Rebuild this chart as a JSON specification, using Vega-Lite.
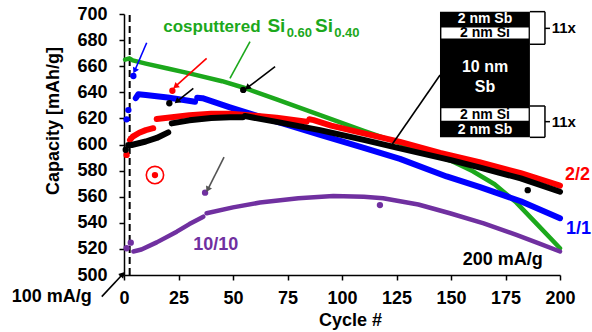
{
"$schema":"https://vega.github.io/schema/vega-lite/v6.json",
"width":436,"height":261,
"autosize":{"type":"none"},
"padding":{"left":124,"top":14,"right":32,"bottom":57},
"background":"white",
"config":{"view":{"stroke":null},"text":{"font":"Liberation Sans","fontWeight":"bold"}},
"datasets":{
"curves":[
{"series":"cosputtered","seg":1,"x":0.5,"y":665},{"series":"cosputtered","seg":1,"x":2.5,"y":666},{"series":"cosputtered","seg":1,"x":4,"y":664.5},{"series":"cosputtered","seg":1,"x":10,"y":662},{"series":"cosputtered","seg":1,"x":20,"y":658.2},{"series":"cosputtered","seg":1,"x":30,"y":654.5},{"series":"cosputtered","seg":1,"x":45,"y":648.5},{"series":"cosputtered","seg":1,"x":55,"y":643.5},{"series":"cosputtered","seg":1,"x":70,"y":634.5},{"series":"cosputtered","seg":1,"x":90,"y":622.6},{"series":"cosputtered","seg":1,"x":110,"y":610.5},{"series":"cosputtered","seg":1,"x":131,"y":598.3},{"series":"cosputtered","seg":1,"x":140,"y":593},{"series":"cosputtered","seg":1,"x":150,"y":587.5},{"series":"cosputtered","seg":1,"x":160,"y":579.5},{"series":"cosputtered","seg":1,"x":170,"y":569.5},{"series":"cosputtered","seg":1,"x":180,"y":555.5},{"series":"cosputtered","seg":1,"x":190,"y":538},{"series":"cosputtered","seg":1,"x":200,"y":520.5},
{"series":"1/1","seg":1,"x":5.4,"y":635.5},{"series":"1/1","seg":1,"x":6.6,"y":638.5},{"series":"1/1","seg":1,"x":10,"y":638},{"series":"1/1","seg":1,"x":20,"y":636},{"series":"1/1","seg":1,"x":32.6,"y":632.8},
{"series":"1/1","seg":2,"x":33.6,"y":635.8},{"series":"1/1","seg":2,"x":36,"y":635.5},{"series":"1/1","seg":2,"x":48.6,"y":628.5},{"series":"1/1","seg":2,"x":60,"y":622.5},{"series":"1/1","seg":2,"x":75,"y":615},{"series":"1/1","seg":2,"x":90,"y":607.3},{"series":"1/1","seg":2,"x":110,"y":597.5},{"series":"1/1","seg":2,"x":126.6,"y":589},{"series":"1/1","seg":2,"x":148,"y":575.5},{"series":"1/1","seg":2,"x":163,"y":567.5},{"series":"1/1","seg":2,"x":182,"y":556.5},{"series":"1/1","seg":2,"x":200,"y":543.5},
{"series":"2/2","seg":1,"x":2.75,"y":603.5},{"series":"2/2","seg":1,"x":4,"y":606},{"series":"2/2","seg":1,"x":7,"y":609},{"series":"2/2","seg":1,"x":10,"y":611},{"series":"2/2","seg":1,"x":13.4,"y":612.5},
{"series":"2/2","seg":2,"x":15,"y":619.5},{"series":"2/2","seg":2,"x":20,"y":620.5},{"series":"2/2","seg":2,"x":30,"y":622.5},{"series":"2/2","seg":2,"x":40,"y":623.5},{"series":"2/2","seg":2,"x":48.6,"y":623.5},{"series":"2/2","seg":2,"x":60,"y":622},{"series":"2/2","seg":2,"x":70,"y":620.5},{"series":"2/2","seg":2,"x":83.8,"y":617.5},
{"series":"2/2","seg":3,"x":85,"y":619.3},{"series":"2/2","seg":3,"x":87,"y":618.7},{"series":"2/2","seg":3,"x":95,"y":614.5},{"series":"2/2","seg":3,"x":110,"y":608.5},{"series":"2/2","seg":3,"x":126.6,"y":602},{"series":"2/2","seg":3,"x":145,"y":593.5},{"series":"2/2","seg":3,"x":163,"y":586.5},{"series":"2/2","seg":3,"x":182,"y":578},{"series":"2/2","seg":3,"x":200,"y":568.5},
{"series":"multilayer","seg":1,"x":3.5,"y":599.6},{"series":"multilayer","seg":1,"x":10,"y":602.3},{"series":"multilayer","seg":1,"x":15,"y":605},{"series":"multilayer","seg":1,"x":20.3,"y":609.3},
{"series":"multilayer","seg":2,"x":21.9,"y":616.2},{"series":"multilayer","seg":2,"x":30,"y":618.5},{"series":"multilayer","seg":2,"x":40,"y":620.3},{"series":"multilayer","seg":2,"x":48.6,"y":620.8},{"series":"multilayer","seg":2,"x":54.5,"y":620.8},
{"series":"multilayer","seg":3,"x":55.5,"y":621.8},{"series":"multilayer","seg":3,"x":70,"y":617.3},{"series":"multilayer","seg":3,"x":89.9,"y":611},{"series":"multilayer","seg":3,"x":110,"y":603.5},{"series":"multilayer","seg":3,"x":126.6,"y":597},{"series":"multilayer","seg":3,"x":150,"y":588},{"series":"multilayer","seg":3,"x":163,"y":582.5},{"series":"multilayer","seg":3,"x":182,"y":574},{"series":"multilayer","seg":3,"x":200,"y":563.8},
{"series":"10/10","seg":1,"x":4.3,"y":518},{"series":"10/10","seg":1,"x":8,"y":519.5},{"series":"10/10","seg":1,"x":15,"y":525},{"series":"10/10","seg":1,"x":24.2,"y":533.2},{"series":"10/10","seg":1,"x":30,"y":539},{"series":"10/10","seg":1,"x":36.4,"y":544.7},
{"series":"10/10","seg":2,"x":37.9,"y":547.3},{"series":"10/10","seg":2,"x":50,"y":551.8},{"series":"10/10","seg":2,"x":62.4,"y":555.5},{"series":"10/10","seg":2,"x":80,"y":558.8},{"series":"10/10","seg":2,"x":96,"y":560.5},{"series":"10/10","seg":2,"x":110,"y":560},{"series":"10/10","seg":2,"x":118.9,"y":558.8},{"series":"10/10","seg":2,"x":135,"y":554},{"series":"10/10","seg":2,"x":149.5,"y":547.3},{"series":"10/10","seg":2,"x":165,"y":539.5},{"series":"10/10","seg":2,"x":180,"y":530.7},{"series":"10/10","seg":2,"x":190,"y":524.5},{"series":"10/10","seg":2,"x":200,"y":518}
],
"pts":[
{"series":"1/1","x":1.2,"y":619.3},{"series":"1/1","x":2.0,"y":626.4},{"series":"1/1","x":4.3,"y":652.5},
{"series":"2/2","x":1.2,"y":592},{"series":"2/2","x":22.2,"y":641.2},{"series":"2/2","x":14.2,"y":576.6},
{"series":"multilayer","x":0.8,"y":596},{"series":"multilayer","x":2,"y":599.5},{"series":"multilayer","x":20.8,"y":631.6},{"series":"multilayer","x":54.7,"y":641.8},{"series":"multilayer","x":185.2,"y":565},
{"series":"10/10","x":1.2,"y":520.5},{"series":"10/10","x":3.1,"y":524.8},{"series":"10/10","x":37.2,"y":563.1},{"series":"10/10","x":117.4,"y":553.6}
],
"arrows":[
{"id":"a1","series":"1/1","x":4.9,"y":656.5,"x2":10.4,"y2":678},
{"id":"a2","series":"2/2","x":23.6,"y":644.5,"x2":37.9,"y2":666},
{"id":"a3","series":"multilayer","x":24.3,"y":633,"x2":31.8,"y2":643.1},
{"id":"a4","series":"multilayer","x":56.6,"y":643.5,"x2":69.3,"y2":659.6},
{"id":"a5","series":"grey","x":38.4,"y":565.5,"x2":45.9,"y2":590.4},
{"id":"a6","series":"multilayer","x":-0.6,"y":500.6,"x2":-10.2,"y2":483.4},
{"id":"l1","series":"cosputtered","x":48.6,"y":650.7,"x2":57.8,"y2":678.8},
{"id":"l2","series":"multilayer","x":122.8,"y":599.6,"x2":145,"y2":653.3}
],
"labels":[
{"series":"2/2","x":202.3,"y":576.6,"t":"2/2"},
{"series":"1/1","x":202.8,"y":535,"t":"1/1"},
{"series":"10/10","x":31.8,"y":523,"t":"10/10"},
{"series":"multilayer","x":155.4,"y":511.5,"t":"200 mA/g"},
{"series":"multilayer","x":-51.5,"y":483.4,"t":"100 mA/g"}
]
},
"encoding":{
"x":{"field":"x","type":"quantitative","title":"Cycle #","scale":{"domain":[0,200],"nice":false,"zero":false},
 "axis":{"values":[0,25,50,75,100,125,150,175,200],"grid":false,"labelFont":"Liberation Sans","labelFontSize":18,"labelFontWeight":"bold","labelColor":"#000","labelPadding":9,"labelFlush":false,"labelOverlap":false,"tickColor":"#000","tickSize":5,"tickWidth":1.5,"domainColor":"#000","domainWidth":1.5,"titleFont":"Liberation Sans","titleFontSize":18,"titleFontWeight":"bold","titleColor":"#000","titleX":226,"titleY":45,"titleBaseline":"middle","titleAlign":"center"}},
"y":{"field":"y","type":"quantitative","title":"Capacity [mAh/g]","scale":{"domain":[500,700],"nice":false,"zero":false},
 "axis":{"values":[500,520,540,560,580,600,620,640,660,680,700],"grid":false,"labelFont":"Liberation Sans","labelFontSize":18,"labelFontWeight":"bold","labelColor":"#000","labelPadding":12,"labelFlush":false,"labelOverlap":false,"tickColor":"#000","tickSize":5,"tickWidth":1.5,"domainColor":"#000","domainWidth":1.5,"titleFont":"Liberation Sans","titleFontSize":18,"titleFontWeight":"bold","titleColor":"#000","titleX":-71,"titleY":106.5,"titleAngle":-90,"titleBaseline":"middle","titleAlign":"center"}},
"color":{"field":"series","type":"nominal","legend":null,"scale":{"domain":["cosputtered","1/1","2/2","multilayer","10/10","grey"],"range":["#1ca81c","#0000ff","#ff0000","#000000","#7030a0","#555555"]}}
},
"layer":[
{"data":{"values":[{"x":2.6,"y":500,"y2":700}]},"mark":{"type":"rule","strokeDash":[7,4],"strokeWidth":2},"encoding":{"y2":{"field":"y2"},"color":{"value":"#000"}}},
{"data":{"name":"curves"},"transform":[{"filter":"datum.series==='cosputtered'"}],"mark":{"type":"line","strokeWidth":4.5,"strokeCap":"round","strokeJoin":"round"},"encoding":{"detail":{"field":"seg"}}},
{"data":{"name":"curves"},"transform":[{"filter":"datum.series==='10/10'"}],"mark":{"type":"line","strokeWidth":4.5,"strokeCap":"round","strokeJoin":"round"},"encoding":{"detail":{"field":"seg"}}},
{"data":{"name":"curves"},"transform":[{"filter":"datum.series==='1/1'"}],"mark":{"type":"line","strokeWidth":6,"strokeCap":"round","strokeJoin":"round"},"encoding":{"detail":{"field":"seg"}}},
{"data":{"name":"curves"},"transform":[{"filter":"datum.series==='2/2'"}],"mark":{"type":"line","strokeWidth":6,"strokeCap":"round","strokeJoin":"round"},"encoding":{"detail":{"field":"seg"}}},
{"data":{"name":"curves"},"transform":[{"filter":"datum.series==='multilayer'"}],"mark":{"type":"line","strokeWidth":6,"strokeCap":"round","strokeJoin":"round"},"encoding":{"detail":{"field":"seg"}}},
{"data":{"name":"pts"},"mark":{"type":"point","filled":true,"size":40,"opacity":1}},
{"data":{"values":[{"x":14.2,"y":576.6,"series":"2/2"}]},"mark":{"type":"point","filled":false,"size":300,"strokeWidth":1.6,"opacity":1}},
{"data":{"name":"arrows"},"mark":{"type":"rule","strokeWidth":1.6},"encoding":{"x2":{"field":"x2"},"y2":{"field":"y2"}}},
{"data":{"name":"arrows"},"transform":[{"filter":{"field":"id","oneOf":["a2","a3","a4"]}}],"mark":{"type":"point","shape":"triangle-up","filled":true,"size":45,"angle":230,"opacity":1}},
{"data":{"name":"arrows"},"transform":[{"filter":{"field":"id","oneOf":["a1","a5"]}}],"mark":{"type":"point","shape":"triangle-up","filled":true,"size":45,"angle":207,"opacity":1}},
{"data":{"name":"arrows"},"transform":[{"filter":{"field":"id","oneOf":["a6"]}}],"mark":{"type":"point","shape":"triangle-up","filled":true,"size":45,"angle":43,"opacity":1}},
{"data":{"values":[{"x":144.95,"x2":186.2,"y":605.5,"y2":701.8}]},"mark":{"type":"rect"},"encoding":{"x2":{"field":"x2"},"y2":{"field":"y2"},"color":{"value":"#000"}}},
{"data":{"values":[{"x":145.6,"x2":185.6,"y":681.2,"y2":689.7},{"x":145.6,"x2":185.6,"y":618.2,"y2":627.7}]},"mark":{"type":"rect"},"encoding":{"x2":{"field":"x2"},"y2":{"field":"y2"},"color":{"value":"#fff"}}},
{"data":{"values":[{"x":165.6,"y":696.4,"t":"2 nm Sb"},{"x":165.6,"y":611.3,"t":"2 nm Sb"}]},"mark":{"type":"text","fontSize":14,"fontWeight":"bold","align":"center","baseline":"middle"},"encoding":{"text":{"field":"t"},"color":{"value":"#fff"}}},
{"data":{"values":[{"x":165.6,"y":685.2,"t":"2 nm Si"},{"x":165.6,"y":622.8,"t":"2 nm Si"}]},"mark":{"type":"text","fontSize":14,"fontWeight":"bold","align":"center","baseline":"middle"},"encoding":{"text":{"field":"t"},"color":{"value":"#000"}}},
{"data":{"values":[{"x":165.6,"y":659.6,"t":"10 nm"},{"x":165.6,"y":643.8,"t":"Sb"}]},"mark":{"type":"text","fontSize":16,"fontWeight":"bold","align":"center","baseline":"middle"},"encoding":{"text":{"field":"t"},"color":{"value":"#fff"}}},
{"data":{"values":[
{"x":186.2,"x2":193.1,"y":701.8,"y2":701.8},{"x":193.1,"x2":193.1,"y":701.8,"y2":676.8},{"x":186.2,"x2":193.1,"y":676.8,"y2":676.8},{"x":193.1,"x2":195.4,"y":689,"y2":689},
{"x":186.2,"x2":193.1,"y":629.5,"y2":629.5},{"x":193.1,"x2":193.1,"y":629.5,"y2":605.5},{"x":186.2,"x2":193.1,"y":605.5,"y2":605.5},{"x":193.1,"x2":195.4,"y":617.5,"y2":617.5}]},
 "mark":{"type":"rule","strokeWidth":1.5},"encoding":{"x2":{"field":"x2"},"y2":{"field":"y2"},"color":{"value":"#000"}}},
{"data":{"values":[{"x":196.2,"y":689,"t":"11x"},{"x":196.2,"y":617.5,"t":"11x"}]},"mark":{"type":"text","fontSize":15,"fontWeight":"bold","align":"left","baseline":"middle"},"encoding":{"text":{"field":"t"},"color":{"value":"#000"}}},
{"data":{"name":"labels"},"mark":{"type":"text","fontSize":18,"fontWeight":"bold","align":"left","baseline":"middle"},"encoding":{"text":{"field":"t"}}},
{"data":{"values":[{"x":18.0,"y":686.4,"t":"cosputtered"}]},"mark":{"type":"text","fontSize":17,"fontWeight":"bold","align":"left","baseline":"alphabetic"},"encoding":{"text":{"field":"t"},"color":{"value":"#1ca81c"}}},
{"data":{"values":[{"x":65.8,"y":686.4,"t":"Si"},{"x":87.6,"y":686.4,"t":"Si"}]},"mark":{"type":"text","fontSize":19,"fontWeight":"bold","align":"left","baseline":"alphabetic"},"encoding":{"text":{"field":"t"},"color":{"value":"#1ca81c"}}},
{"data":{"values":[{"x":74.6,"y":682.1,"t":"0.60"},{"x":96.4,"y":682.1,"t":"0.40"}]},"mark":{"type":"text","fontSize":13,"fontWeight":"bold","align":"left","baseline":"alphabetic"},"encoding":{"text":{"field":"t"},"color":{"value":"#1ca81c"}}}
]
}
